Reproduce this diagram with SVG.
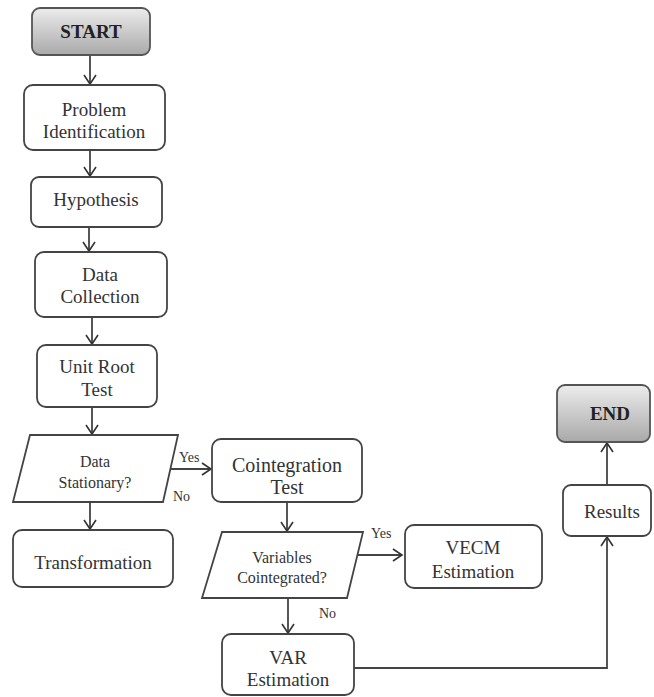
<svg xmlns="http://www.w3.org/2000/svg" width="654" height="697" viewBox="0 0 654 697">
<defs>
<linearGradient id="gray" x1="0" y1="0" x2="0" y2="1">
<stop offset="0" stop-color="#ececec"/>
<stop offset="1" stop-color="#a9a9a9"/>
</linearGradient>
<marker id="arr" markerWidth="14" markerHeight="14" refX="11" refY="7" orient="auto" markerUnits="userSpaceOnUse">
<path d="M2,1 L11,7 L2,13" fill="none" stroke="#333" stroke-width="1.6"/>
</marker>
<style>
.box{fill:#fff;stroke:#444;stroke-width:1.8}
.term{fill:url(#gray);stroke:#555;stroke-width:1.8}
.t{font-family:"Liberation Serif","Times New Roman",serif;font-size:19px;fill:#333;text-anchor:middle}
.b{font-weight:bold;fill:#222}
.s{font-size:16px}
.lbl{font-family:"Liberation Serif","Times New Roman",serif;font-size:14px;fill:#333}
.c{fill:none;stroke:#444;stroke-width:1.8}
</style>
</defs>
<rect width="654" height="697" fill="#fff"/>
<g id="connectors">
<path class="c" d="M90,55 V84" marker-end="url(#arr)"/>
<path class="c" d="M90,150 V176" marker-end="url(#arr)"/>
<path class="c" d="M89,227 V251" marker-end="url(#arr)"/>
<path class="c" d="M92,317 V344" marker-end="url(#arr)"/>
<path class="c" d="M92,407 V434" marker-end="url(#arr)"/>
<path class="c" d="M90,502 V529" marker-end="url(#arr)"/>
<path class="c" d="M171,469 H211" marker-end="url(#arr)"/>
<path class="c" d="M287,502 V531" marker-end="url(#arr)"/>
<path class="c" d="M357,555 H402" marker-end="url(#arr)"/>
<path class="c" d="M288,598 V633" marker-end="url(#arr)"/>
<path class="c" d="M354,668 H607 V537" marker-end="url(#arr)"/>
<path class="c" d="M607,485 V443" marker-end="url(#arr)"/>
<text class="lbl" x="179" y="462">Yes</text>
<text class="lbl" x="173" y="501">No</text>
<text class="lbl" x="371" y="538">Yes</text>
<text class="lbl" x="319" y="618">No</text>
</g>
<g id="start">
<rect class="term" x="32" y="8" width="118" height="47" rx="8"/>
<text class="t b" x="91" y="38">START</text>
</g>
<g id="problem">
<rect class="box" x="24" y="85" width="141" height="65" rx="9"/>
<text class="t" x="94" y="116">Problem</text>
<text class="t" x="94" y="138">Identification</text>
</g>
<g id="hypothesis">
<rect class="box" x="31" y="177" width="131" height="50" rx="8"/>
<text class="t" x="96" y="206">Hypothesis</text>
</g>
<g id="data">
<rect class="box" x="35" y="252" width="132" height="65" rx="9"/>
<text class="t" x="100" y="281">Data</text>
<text class="t" x="100" y="303">Collection</text>
</g>
<g id="unitroot">
<rect class="box" x="37" y="345" width="120" height="62" rx="9"/>
<text class="t" x="97" y="373">Unit Root</text>
<text class="t" x="97" y="396">Test</text>
</g>
<g id="stationary">
<polygon class="box" points="30,435 178,435 163,502 13,502"/>
<text class="t s" x="95" y="467">Data</text>
<text class="t s" x="95" y="488">Stationary?</text>
</g>
<g id="transformation">
<rect class="box" x="13" y="530" width="160" height="57" rx="9"/>
<text class="t" x="93" y="569">Transformation</text>
</g>
<g id="cointegration">
<rect class="box" x="212" y="439" width="150" height="63" rx="9"/>
<text class="t" x="287" y="472" style="font-size:20px">Cointegration</text>
<text class="t" x="287" y="494" style="font-size:20px">Test</text>
</g>
<g id="cointegrated">
<polygon class="box" points="222,532 363,532 347,598 202,598"/>
<text class="t s" x="282" y="563">Variables</text>
<text class="t s" x="282" y="583">Cointegrated?</text>
</g>
<g id="vecm">
<rect class="box" x="405" y="525" width="137" height="63" rx="9"/>
<text class="t" x="473" y="554">VECM</text>
<text class="t" x="473" y="578">Estimation</text>
</g>
<g id="var">
<rect class="box" x="222" y="634" width="132" height="61" rx="9"/>
<text class="t" x="288" y="664">VAR</text>
<text class="t" x="288" y="686">Estimation</text>
</g>
<g id="results">
<rect class="box" x="563" y="485" width="88" height="51" rx="8"/>
<text class="t" x="612" y="518">Results</text>
</g>
<g id="end">
<rect class="term" x="557" y="385" width="93" height="57" rx="8"/>
<text class="t b" x="610" y="420">END</text>
</g>
</svg>
